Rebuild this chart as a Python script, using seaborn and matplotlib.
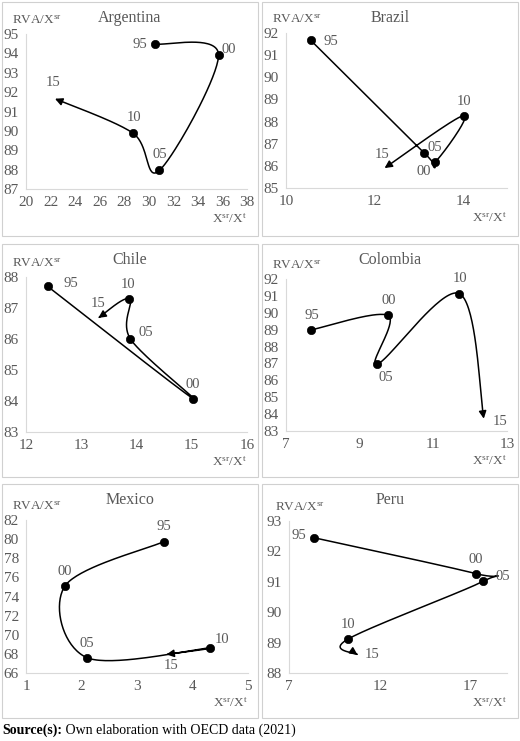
import numpy as np
import matplotlib.pyplot as plt
import seaborn as sns
from matplotlib.patches import Rectangle

sns.set_theme(style="white")
plt.rcParams.update({
    "font.family": ["Liberation Serif", "DejaVu Serif"],
    "mathtext.fontset": "custom",
    "mathtext.rm": "Liberation Serif",
    "mathtext.it": "Liberation Serif:italic",
})

years = ["95", "00", "05", "10", "15"]

# values, one pair of lists per country
arg_x = [30.52, 35.68, 30.87, 28.70, 22.36]
arg_y = [94.48, 93.93, 87.96, 89.89, 91.66]
bra_x = [10.56, 13.13, 13.37, 14.02, 12.23]
bra_y = [91.67, 86.58, 86.16, 88.27, 85.90]
chl_x = [12.39, 15.02, 13.89, 13.87, 13.31]
chl_y = [87.70, 84.08, 86.00, 87.29, 86.68]
col_x = [7.67, 9.77, 9.48, 11.71, 12.37]
col_y = [88.98, 89.84, 86.96, 91.13, 83.73]
mex_x = [3.48, 1.70, 2.10, 4.32, 3.53]
mex_y = [79.73, 75.08, 67.60, 68.64, 67.94]
per_x = [8.37, 17.28, 17.70, 10.23, 10.77]
per_y = [92.45, 91.27, 91.02, 89.11, 88.60]

GREY = "#595959"
W, H = 520, 741

# name, data, axes box in px (left, right, top, bottom), panel box, xlim, xticks, ylim, yticks, label offsets (px)
panels = [
    ("Argentina", arg_x, arg_y, (26, 247, 34, 189), (2, 258, 2, 236),
     (20, 38), np.arange(20, 39, 2), (87, 95), np.arange(87, 96, 1),
     [(-15, 0), (10, 5), (0, 16), (1, 16), (-2, 16)]),
    ("Brazil", bra_x, bra_y, (286, 507, 33, 188), (262, 518, 2, 236),
     (10, 15), [10, 12, 14], (85, 92), np.arange(85, 93, 1),
     [(20, -1), (-1, -18), (0, 15), (0, 14), (-2, 14)]),
    ("Chile", chl_x, chl_y, (26, 247, 277, 432), (2, 258, 244, 477),
     (12, 16), np.arange(12, 17, 1), (83, 88), np.arange(83, 89, 1),
     [(23, 3), (0, 14), (15, 7), (-1, 15), (0, 14)]),
    ("Colombia", col_x, col_y, (286, 507, 279, 431), (262, 518, 244, 477),
     (7, 13), [7, 9, 11, 13], (83, 92), np.arange(83, 93, 1),
     [(1, 15), (1, 15), (8, -13), (1, 15), (16, -3)]),
    ("Mexico", mex_x, mex_y, (26, 248, 520, 673), (2, 258, 484, 718),
     (1, 5), np.arange(1, 6, 1), (66, 82), np.arange(66, 83, 2),
     [(0, 15), (0, 15), (0, 14), (12, 8), (5, -11)]),
    ("Peru", per_x, per_y, (289, 507, 521, 673), (262, 518, 484, 718),
     (7, 19), [7, 12, 17], (88, 93), np.arange(88, 94, 1),
     [(-15, 2), (0, 14), (19, 5), (0, 15), (15, 0)]),
]


def smooth(xs, ys, n=40):
    # Excel-like smoothed line (Catmull-Rom as cubic Bezier)
    p = np.column_stack([xs, ys]).astype(float)
    p = np.vstack([p[0], p, p[-1]])
    out = []
    t = np.linspace(0, 1, n)[:, None]
    for i in range(1, len(p) - 2):
        p0, p1, p2, p3 = p[i - 1], p[i], p[i + 1], p[i + 2]
        c1 = p1 + (p2 - p0) / 6
        c2 = p2 - (p3 - p1) / 6
        seg = (1 - t) ** 3 * p1 + 3 * (1 - t) ** 2 * t * c1 + 3 * (1 - t) * t ** 2 * c2 + t ** 3 * p2
        out.append(seg if i == 1 else seg[1:])
    return np.vstack(out)


fig = plt.figure(figsize=(W / 100, H / 100), dpi=100)

for name, xs, ys, (l, r, t, b), (bl, br, bt, bb), xlim, xticks, ylim, yticks, offs in panels:
    fig.patches.append(Rectangle((bl / W, 1 - bb / H), (br - bl) / W, (bb - bt) / H,
                                 transform=fig.transFigure, fill=False,
                                 edgecolor="#d0d0d0", lw=0.8))
    ax = fig.add_axes([l / W, 1 - b / H, (r - l) / W, (b - t) / H])
    ax.patch.set_alpha(0)

    curve = smooth(xs, ys)
    sns.lineplot(x=curve[:-2, 0], y=curve[:-2, 1], sort=False, estimator=None,
                 color="black", lw=1.1, ax=ax)
    ax.annotate("", xy=curve[-1], xytext=curve[-4],
                arrowprops=dict(arrowstyle="-|>", color="black", lw=1.1,
                                mutation_scale=11, shrinkA=0, shrinkB=0))
    sns.scatterplot(x=xs[:-1], y=ys[:-1], color="black", edgecolor="black",
                    s=36, ax=ax, zorder=3)

    for lab, x, y, o in zip(years, xs, ys, offs):
        ax.annotate(lab, (x, y), xytext=o, textcoords="offset pixels",
                    ha="center", va="center", fontsize=10.5, color=GREY)

    ax.set_xlim(*xlim)
    ax.set_ylim(*ylim)
    ax.set_xticks(xticks)
    ax.set_yticks(yticks)
    ax.tick_params(length=0, labelsize=11, labelcolor=GREY, pad=5)
    for s in ["top", "right"]:
        ax.spines[s].set_visible(False)
    for s in ["left", "bottom"]:
        ax.spines[s].set_color("#d9d9d9")
        ax.spines[s].set_linewidth(0.8)

    fig.text((bl + br) / 2 / W, 1 - (bt + 16) / H, name, ha="center", va="center",
             fontsize=11.5, color=GREY)
    ax.annotate(r"RVA/X$^{\mathregular{sr}}$", (0, 1), xycoords="axes fraction",
                xytext=(-14, 13), textcoords="offset pixels",
                ha="left", va="center", fontsize=9.5, color=GREY)
    ax.annotate(r"X$^{\mathregular{sr}}$/X$^{\mathregular{t}}$", (1, 0), xycoords="axes fraction",
                xytext=(0, -30), textcoords="offset pixels",
                ha="right", va="center", fontsize=9.5, color=GREY)

t1 = fig.text(2 / W, 1 - 730 / H, "Source(s):", fontsize=10, weight="bold",
              color="black", va="center", ha="left")
plt.gca().annotate(" Own elaboration with OECD data (2021)", xy=(1, 0), xycoords=t1,
                   va="bottom", ha="left", fontsize=10, color="black",
                   annotation_clip=False)

fig.savefig("out.png", dpi=100)
